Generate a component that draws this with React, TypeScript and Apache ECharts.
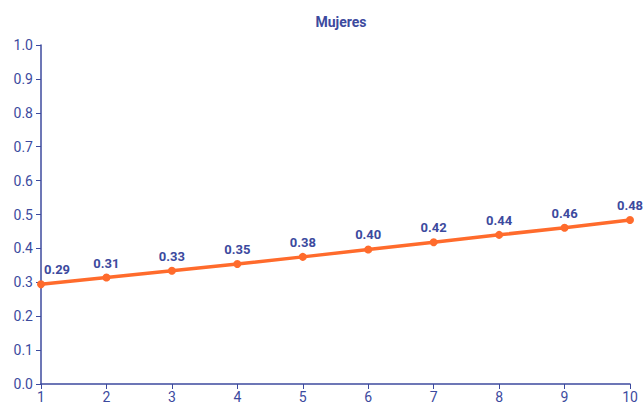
import React, { useEffect, useRef } from "react";
import * as echarts from "echarts";

const categories = ["1", "2", "3", "4", "5", "6", "7", "8", "9", "10"];
const values = [0.294, 0.314, 0.334, 0.354, 0.375, 0.397, 0.418, 0.44, 0.461, 0.484];
const title = "Mujeres";

const BLUE = "#3c4a9e";
const ORANGE = "#ff6b2c";

export default function App() {
  const ref = useRef<HTMLDivElement>(null);
  useEffect(() => {
    if (!ref.current) return;
    const chart = echarts.init(ref.current, null, { renderer: "svg" });
    chart.setOption({
      animation: false,
      textStyle: { fontFamily: "Roboto" },
      title: {
        text: title,
        left: 336,
        top: 10,
        textAlign: "center",
        textStyle: { color: BLUE, fontSize: 14, fontWeight: "bold", fontFamily: "Roboto" },
      },
      grid: { left: 41, right: 13, top: 45, bottom: 25 },
      xAxis: {
        type: "category",
        data: categories,
        boundaryGap: false,
        axisLine: { lineStyle: { color: BLUE, width: 1.5 } },
        axisTick: { alignWithLabel: true, length: 5, lineStyle: { color: BLUE } },
        axisLabel: { color: BLUE, fontSize: 14, margin: 6 },
        splitLine: { show: false },
      },
      yAxis: {
        type: "value",
        min: 0,
        max: 1,
        interval: 0.1,
        axisLine: { show: true, lineStyle: { color: BLUE, width: 1.5 } },
        axisTick: { show: true, length: 5, lineStyle: { color: BLUE } },
        axisLabel: { color: BLUE, fontSize: 14, margin: 8, formatter: (v: number) => v.toFixed(1) },
        splitLine: { show: false },
      },
      series: [
        {
          type: "line",
          data: values.map((v, i) =>
            i === 0 ? { value: v, label: { offset: [16, 0] } } : v
          ),
          symbol: "circle",
          symbolSize: 8,
          lineStyle: { color: ORANGE, width: 3.5 },
          itemStyle: { color: ORANGE },
          label: {
            show: true,
            position: "top",
            distance: 4,
            color: BLUE,
            fontWeight: "bold",
            fontSize: 13,
            formatter: (p: any) => Number(p.value).toFixed(2),
          },
        },
      ],
    });
    return () => chart.dispose();
  }, []);
  return (
    <div
      ref={ref}
      style={{ position: "fixed", left: 0, top: 0, width: 643, height: 409, background: "#fff" }}
    />
  );
}
